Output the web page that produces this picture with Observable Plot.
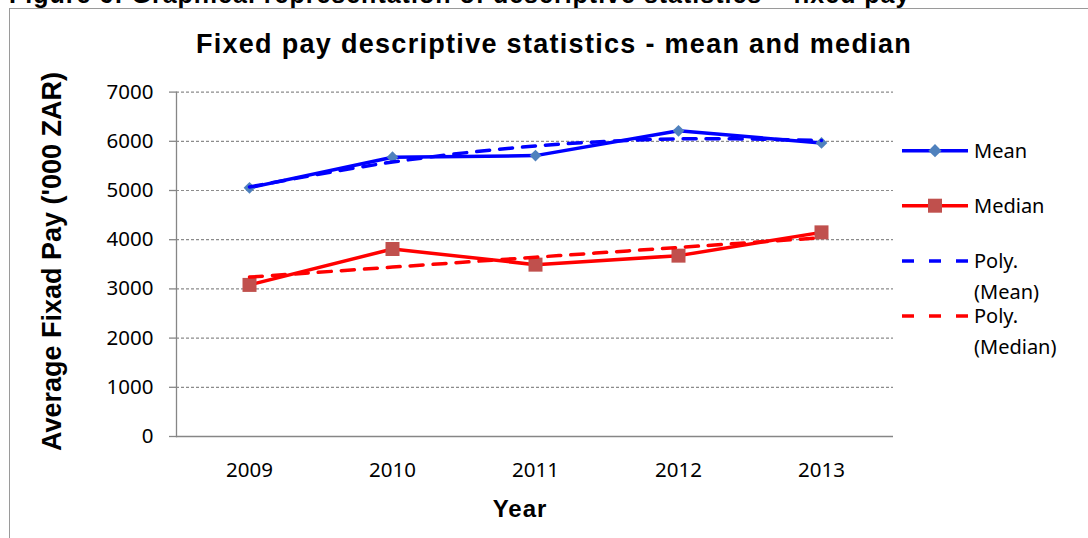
<!DOCTYPE html>
<html>
<head>
<meta charset="utf-8">
<script src="https://cdn.jsdelivr.net/npm/d3@7"></script>
<script src="https://cdn.jsdelivr.net/npm/@observablehq/plot@0.6"></script>
<style>
  html, body { margin: 0; padding: 0; background: #fff; }
  #page { position: relative; width: 1088px; height: 538px; overflow: hidden; background: #fff; }
  #frame { position: absolute; left: 9px; top: 8px; width: 1100px; height: 560px;
           border-left: 1.5px solid #9a9a9a; border-top: 1.5px solid #9a9a9a; }
  .bold { font-family: "Liberation Sans", Arial, sans-serif; font-weight: bold; color: #000; position: absolute; white-space: nowrap; }
  #caption { left: 9px; top: -18.3px; font-size: 25px; line-height: 25px; letter-spacing: 1px; }
  #title { left: 0; width: 1108px; text-align: center; top: 30.9px; font-size: 27px; line-height: 27px; letter-spacing: 1.3px; }
  #ytitle { left: -198px; width: 500px; text-align: center; top: 247.5px; font-size: 27px; line-height: 27px; transform: rotate(-90deg); transform-origin: 50% 50%; }
  #xtitle { left: 270px; width: 500px; text-align: center; top: 497px; font-size: 24px; line-height: 24px; letter-spacing: 1px; }
  #chart { position: absolute; left: 0; top: 0; }
  #legend { position: absolute; left: 0; top: 0; }
</style>
</head>
<body>
<div id="page">
  <div id="frame"></div>
  <div id="chart"></div>
  <div id="caption" class="bold">Figure 6: Graphical representation of descriptive statistics – fixed pay</div>
  <div id="title" class="bold">Fixed pay descriptive statistics - mean and median</div>
  <div id="ytitle" class="bold">Average Fixad Pay ('000 ZAR)</div>
  <div id="xtitle" class="bold">Year</div>
  <svg id="legend" width="1088" height="538"></svg>
</div>
<script>
// ---- data ----
const years = ["2009", "2010", "2011", "2012", "2013"];
const meanPay = [5055, 5676, 5709, 6213, 5967];
const medianPay = [3081, 3811, 3493, 3676, 4149];
const yTicks = [0, 1000, 2000, 3000, 4000, 5000, 6000, 7000];
const seriesNames = ["Mean", "Median", "Poly. (Mean)", "Poly. (Median)"];

// Excel-style order-2 polynomial trendline (least squares on x = 1..n)
function polyFit2(ys) {
  const xs = ys.map((_, i) => i + 1);
  const S = k => d3.sum(xs, x => x ** k);
  const T = k => d3.sum(xs, (x, i) => x ** k * ys[i]);
  const A = [[S(0), S(1), S(2), T(0)], [S(1), S(2), S(3), T(1)], [S(2), S(3), S(4), T(2)]];
  for (let c = 0; c < 3; c++) {
    for (let r = c + 1; r < 3; r++) {
      const f = A[r][c] / A[c][c];
      for (let k = c; k < 4; k++) A[r][k] -= f * A[c][k];
    }
  }
  const b = [0, 0, 0];
  for (let r = 2; r >= 0; r--) {
    let s = A[r][3];
    for (let k = r + 1; k < 3; k++) s -= A[r][k] * b[k];
    b[r] = s / A[r][r];
  }
  return xs.map(x => b[0] + b[1] * x + b[2] * x * x);
}
const meanTrend = polyFit2(meanPay);
const medianTrend = polyFit2(medianPay);

const rows = years.map((year, i) => ({
  year, mean: meanPay[i], median: medianPay[i], meanTrend: meanTrend[i], medianTrend: medianTrend[i]
}));

const blue = "#0000ff", red = "#ff0000", diamondFill = "#4f81bd", squareFill = "#c0504d", axisGray = "#868686";

const chart = Plot.plot({
  width: 1088,
  height: 538,
  marginLeft: 176,
  marginRight: 195,
  marginTop: 91.6,
  marginBottom: 102,
  style: { fontFamily: "'Noto Sans', sans-serif", fontSize: "21px", color: "#000", background: "transparent", overflow: "visible" },
  x: { type: "point", domain: years, padding: 0.5, label: null },
  y: { domain: [0, 7000], label: null },
  marks: [
    Plot.gridY(yTicks.slice(1), { stroke: "#8c8c8c", strokeOpacity: 1, strokeWidth: 1.2, strokeDasharray: "3,2" }),
    Plot.axisY(yTicks, { tickSize: 7, tickPadding: 16, stroke: axisGray, strokeWidth: 1.3, fill: "#000", fontSize: 20.5, tickFormat: d => String(d), label: null }),
    Plot.axisX({ tickSize: 0, tickPadding: 26, fill: "#000", fontSize: 20.5, label: null }),
    Plot.frame({ anchor: "left", stroke: axisGray, strokeWidth: 1.3 }),
    Plot.ruleY([0], { stroke: axisGray, strokeWidth: 1.3 }),
    Plot.line(rows, { x: "year", y: "mean", stroke: blue, strokeWidth: 3.5 }),
    Plot.dot(rows, { x: "year", y: "mean", symbol: "diamond2", r: 5.3, fill: diamondFill, stroke: "none" }),
    Plot.line(rows, { x: "year", y: "median", stroke: red, strokeWidth: 3.5 }),
    Plot.dot(rows, { x: "year", y: "median", symbol: "square", r: 7.9, fill: squareFill, stroke: "none" }),
    Plot.line(rows, { x: "year", y: "meanTrend", stroke: blue, strokeWidth: 3.5, strokeDasharray: "13,10", curve: "catmull-rom" }),
    Plot.line(rows, { x: "year", y: "medianTrend", stroke: red, strokeWidth: 3.5, strokeDasharray: "13,10", curve: "catmull-rom" })
  ]
});
document.getElementById("chart").appendChild(chart);

// ---- legend ----
const lg = d3.select("#legend");
const legendItems = [
  { y: 150.7, stroke: blue, dash: null, marker: "diamond" },
  { y: 205.7, stroke: red, dash: null, marker: "square" },
  { y: 261, stroke: blue, dash: "12,15", marker: null },
  { y: 316, stroke: red, dash: "12,15", marker: null }
];
legendItems.forEach((it, i) => {
  const g = lg.append("g");
  g.append("line").attr("x1", 902).attr("x2", 968).attr("y1", it.y).attr("y2", it.y)
    .attr("stroke", it.stroke).attr("stroke-width", 3.5).attr("stroke-dasharray", it.dash);
  if (it.marker === "diamond") {
    g.append("path").attr("d", `M935,${it.y - 6.6}L941.6,${it.y}L935,${it.y + 6.6}L928.4,${it.y}Z`).attr("fill", diamondFill);
  } else if (it.marker === "square") {
    g.append("rect").attr("x", 928).attr("y", it.y - 7).attr("width", 14).attr("height", 14).attr("fill", squareFill);
  }
  const t = g.append("text").attr("x", 974).attr("y", it.y + 7.2)
    .attr("font-family", "'Noto Sans', sans-serif").attr("font-size", 20).attr("fill", "#000");
  const parts = seriesNames[i].startsWith("Poly.") ? ["Poly.", seriesNames[i].slice(6)] : [seriesNames[i]];
  parts.forEach((p, j) => t.append("tspan").attr("x", 974).attr("dy", j === 0 ? 0 : 30.5).text(p));
});
</script>
</body>
</html>
